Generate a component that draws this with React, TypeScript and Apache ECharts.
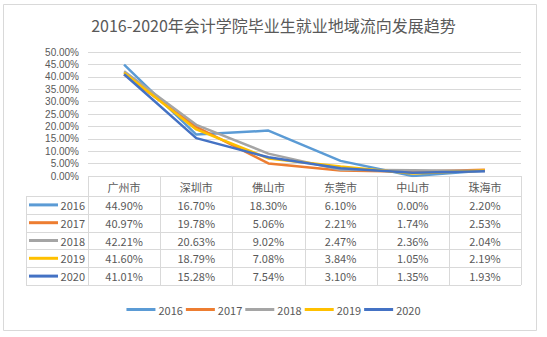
import React, { useEffect, useRef } from "react";
import * as echarts from "echarts";

const titleText = "2016-2020年会计学院毕业生就业地域流向发展趋势";
const categories = ["广州市", "深圳市", "佛山市", "东莞市", "中山市", "珠海市"];
const years = ["2016", "2017", "2018", "2019", "2020"];
const v2016 = [44.9, 16.7, 18.3, 6.1, 0.0, 2.2];
const v2017 = [40.97, 19.78, 5.06, 2.21, 1.74, 2.53];
const v2018 = [42.21, 20.63, 9.02, 2.47, 2.36, 2.04];
const v2019 = [41.6, 18.79, 7.08, 3.84, 1.05, 2.19];
const v2020 = [41.01, 15.28, 7.54, 3.1, 1.35, 1.93];
const seriesValues = [v2016, v2017, v2018, v2019, v2020];
const colors = ["#5B9BD5", "#ED7D31", "#A5A5A5", "#FFC000", "#4472C4"];

const FONT = "'Noto Sans CJK SC', 'Microsoft YaHei', sans-serif";
const NUMFONT = "'Liberation Sans', Arial, sans-serif";
const TXT = "#595959";
const BORDER = "#D9D9D9";

// layout
const W = 547;
const H = 337;
const gridLeft = 88;
const gridRight = 521;
const gridTop = 52;
const gridBottom = 176;
const headerBottom = 196;
const rowH = 17.8;
const tableLeft = 26;

export default function App() {
  const ref = useRef<HTMLDivElement>(null);
  useEffect(() => {
    document.body.style.margin = "0";
    if (!ref.current) return;
    const chart = echarts.init(ref.current, null, { renderer: "svg" });
    const colW = (gridRight - gridLeft) / categories.length;
    const tableBottom = headerBottom + rowH * years.length;
    const graphics: any[] = [];
    graphics.push({
      type: "rect",
      shape: { x: 3.5, y: 4.5, width: 533, height: 326 },
      style: { fill: "none", stroke: BORDER, lineWidth: 1 },
      z: -10,
    });
    graphics.push({
      type: "line",
      shape: { x1: gridLeft, y1: gridBottom + 0.5, x2: gridRight, y2: gridBottom + 0.5 },
      style: { stroke: BORDER, lineWidth: 1 },
    });
    for (let i = 0; i <= years.length; i++) {
      const y = Math.round(headerBottom + rowH * i) + 0.5;
      graphics.push({
        type: "line",
        shape: { x1: tableLeft, y1: y, x2: gridRight, y2: y },
        style: { stroke: BORDER, lineWidth: 1 },
      });
    }
    graphics.push({
      type: "line",
      shape: { x1: tableLeft + 0.5, y1: headerBottom, x2: tableLeft + 0.5, y2: tableBottom },
      style: { stroke: BORDER, lineWidth: 1 },
    });
    for (let c = 0; c <= categories.length; c++) {
      const x = Math.round(gridLeft + colW * c) + 0.5;
      graphics.push({
        type: "line",
        shape: { x1: x, y1: gridBottom, x2: x, y2: tableBottom },
        style: { stroke: BORDER, lineWidth: 1 },
      });
    }
    years.forEach((yr, i) => {
      const cy = headerBottom + rowH * (i + 0.5);
      graphics.push({
        type: "line",
        shape: { x1: 29, y1: cy, x2: 58, y2: cy },
        style: { stroke: colors[i], lineWidth: 3 },
      });
      graphics.push({
        type: "text",
        x: 85,
        y: cy,
        style: {
          text: yr,
          fill: TXT,
          fontSize: 11,
          fontFamily: FONT,
          lineHeight: 12,
          textAlign: "right",
          align: "right",
          textVerticalAlign: "middle",
          verticalAlign: "middle",
        },
      });
      seriesValues[i].forEach((v, c) => {
        graphics.push({
          type: "text",
          x: gridLeft + colW * (c + 0.5),
          y: cy,
          style: {
            text: v.toFixed(2) + "%",
            fill: TXT,
            fontSize: 11,
            fontFamily: FONT,
            lineHeight: 12,
            textAlign: "center",
            align: "center",
            textVerticalAlign: "middle",
            verticalAlign: "middle",
          },
        });
      });
    });

    chart.setOption({
      animation: false,
      backgroundColor: "#fff",
      title: {
        text: titleText,
        left: "center",
        top: 12,
        textStyle: { fontSize: 16, fontWeight: "normal", color: TXT, fontFamily: FONT },
      },
      grid: {
        left: gridLeft,
        right: W - gridRight,
        top: gridTop,
        bottom: H - gridBottom,
        containLabel: false,
      },
      legend: {
        bottom: 17,
        left: "center",
        icon: "rect",
        itemWidth: 29,
        itemHeight: 3,
        itemGap: 3,
        data: years,
        textStyle: { fontSize: 11, color: TXT, fontFamily: FONT, padding: [0, 0, 0, -2] },
      },
      xAxis: {
        type: "category",
        data: categories,
        boundaryGap: true,
        axisLine: { show: false },
        axisTick: { show: false },
        axisLabel: { margin: 5, fontSize: 11, color: TXT, fontFamily: FONT },
        splitLine: { show: false },
      },
      yAxis: {
        type: "value",
        min: 0,
        max: 50,
        interval: 5,
        axisLine: { show: false },
        axisTick: { show: false },
        splitLine: { lineStyle: { color: BORDER, width: 1 } },
        axisLabel: {
          margin: 9,
          fontSize: 10,
          lineHeight: 11,
          color: TXT,
          fontFamily: NUMFONT,
          formatter: (v: number) => v.toFixed(2) + "%",
        },
      },
      graphic: graphics,
      series: years.map((yr, i) => ({
        name: yr,
        type: "line",
        data: seriesValues[i],
        symbol: "none",
        lineStyle: { color: colors[i], width: 2.5 },
        itemStyle: { color: colors[i] },
      })),
    });
    return () => chart.dispose();
  }, []);
  return <div ref={ref} style={{ width: W, height: H }} />;
}
